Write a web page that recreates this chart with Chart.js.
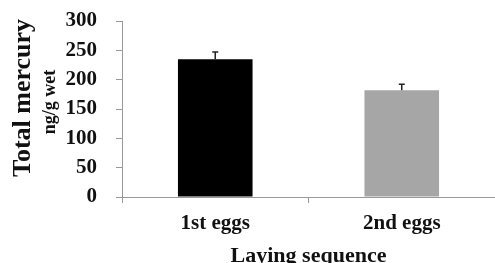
<!DOCTYPE html>
<html><head><meta charset="utf-8">
<script src="https://cdn.jsdelivr.net/npm/chart.js@4/dist/chart.umd.min.js"></script>
<style>html,body{margin:0;padding:0;background:#fff}#w{width:495px;height:263px}</style>
</head><body><div id="w"><canvas id="c"></canvas></div>
<script>
const categories = ["1st eggs", "2nd eggs"];
const mercuryMeans = [235, 182];
const mercuryErrors = [12, 10];
const yTicks = [0, 50, 100, 150, 200, 250, 300];
const barColors = ["#000000", "#a6a6a6"];
const yTitleLines = ["Total mercury", "ng/g wet"];

const serif = "'Liberation Serif','Times New Roman',serif";

const errorBars = {
  id: 'errorBars',
  afterDatasetsDraw(chart) {
    const {ctx, scales: {x, y}} = chart;
    const meta = chart.getDatasetMeta(0);
    ctx.save();
    ctx.strokeStyle = '#222';
    ctx.lineWidth = 1.5;
    meta.data.forEach((bar, i) => {
      const cx = bar.x;
      const top = y.getPixelForValue(mercuryMeans[i] + mercuryErrors[i]);
      const base = y.getPixelForValue(mercuryMeans[i]);
      ctx.beginPath();
      ctx.moveTo(cx, base); ctx.lineTo(cx, top);
      ctx.moveTo(cx - 3, top); ctx.lineTo(cx + 3, top);
      ctx.stroke();
    });
    ctx.restore();
  }
};

const yTitle = {
  id: 'yTitle',
  afterDraw(chart) {
    const {ctx} = chart;
    const draw = (txt, x, y, size) => {
      ctx.save();
      ctx.translate(x, y);
      ctx.rotate(-Math.PI / 2);
      ctx.font = "bold " + size + "px " + serif;
      ctx.fillStyle = '#111';
      ctx.textAlign = 'center';
      ctx.textBaseline = 'middle';
      ctx.fillText(txt, 0, 0);
      ctx.restore();
    };
    draw(yTitleLines[0], 23, 98, 26);
    draw(yTitleLines[1], 50, 102, 18);
  }
};

new Chart(document.getElementById('c'), {
  type: 'bar',
  data: {
    labels: categories,
    datasets: [{
      data: mercuryMeans,
      backgroundColor: barColors,
      borderWidth: 0,
      categoryPercentage: 0.8,
      barPercentage: 0.5
    }]
  },
  options: {
    responsive: true,
    maintainAspectRatio: false,
    animation: false,
    layout: {padding: {top: 21, right: 0, left: 0, bottom: 0}},
    plugins: {legend: {display: false}, tooltip: {enabled: false}},
    scales: {
      x: {
        grid: {display: true, drawOnChartArea: false, offset: true, color: '#999', tickLength: 6, tickWidth: 1},
        border: {display: true, color: '#999', width: 1},
        ticks: {color: '#111', font: {family: serif, size: 21, weight: 'bold'}, padding: 8},
        title: {display: true, text: 'Laying sequence', color: '#111', font: {family: serif, size: 22, weight: 'bold'}, padding: {top: 0, bottom: -7}},
        afterFit(s) { s.height = 66; s.paddingLeft = 0; s.paddingRight = 0; }
      },
      y: {
        min: 0, max: 300,
        afterBuildTicks(s) { s.ticks = yTicks.map(v => ({value: v})); },
        grid: {display: true, drawOnChartArea: false, color: '#999', tickLength: 6, tickWidth: 1},
        border: {display: true, color: '#999', width: 1},
        ticks: {color: '#111', font: {family: serif, size: 21, weight: 'bold', lineHeight: 1}, padding: 19, autoSkip: false},
        title: {display: false},
        afterFit(s) { s.width = 122; s.paddingTop = 0; s.paddingBottom = 0; }
      }
    }
  },
  plugins: [errorBars, yTitle]
});
</script>
</body></html>
